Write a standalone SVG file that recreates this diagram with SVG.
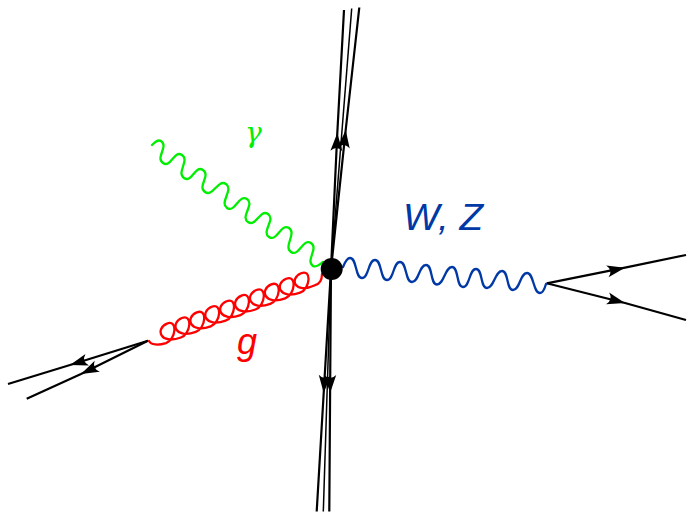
<svg xmlns="http://www.w3.org/2000/svg" width="687" height="512" viewBox="0 0 687 512">
<style>
.f{fill:none;stroke:#000;stroke-width:2.2;marker-mid:url(#a)}
.t{fill:none;stroke:#000;stroke-width:1.5}
.w{fill:none;stroke-width:2.3;stroke-linecap:round}
.l{font-family:"Liberation Sans",sans-serif;font-style:italic}
</style>
<defs>
<marker id="a" markerUnits="userSpaceOnUse" markerWidth="20" markerHeight="16" refX="18" refY="8" orient="auto" overflow="visible"><path d="M0,2 L18,8 L0,14 Q6,8 0,2 Z" fill="#000"/></marker>
</defs>
<rect width="687" height="512" fill="#fff"/>
<g id="connectors">
<path id="jet-up-1" class="f" d="M331,269 L337.3,133 L344,10"/>
<path id="jet-up-2" class="t" d="M331,269 L351.7,8.5"/>
<path id="jet-up-3" class="f" d="M331,269 L345.7,130 L359.3,7.5"/>
<path id="jet-down-1" class="f" d="M331,269 L323.7,393 L316.7,511.5"/>
<path id="jet-down-2" class="t" d="M331,269 L323.3,511.5"/>
<path id="jet-down-3" class="f" d="M331,269 L330.1,393 L329.3,511.5"/>
<path id="lep-1" class="f" d="M546.7,283.3 L625,267.7 L686,255"/>
<path id="lep-2" class="f" d="M546.7,283.3 L625,303 L686,320"/>
<path id="quark-1" class="f" d="M148,340.7 L70,365 L8,384"/>
<path id="quark-2" class="f" d="M148,340.7 L81,374 L26.7,398.7"/>
<path id="photon" class="w" stroke="#00ee00" d="M152,145 C155,142 158,139 161,141 C169,146.5 155,157.5 163,163 C171,168.5 174,149.5 182,155 C190,160.5 176,172.5 184,178 C192,183.5 195,164.5 203,170 C211,175.5 197,186.5 205,192 C213,197.5 218,178.5 226,184 C234,189.5 219,202.5 227,208 C235,213.5 239,193.5 247,199 C255,204.5 240,216.5 248,222 C256,227.5 260,208.5 268,214 C276,219.5 261,231.5 269,237 C277,242.5 281,222.5 289,228 C297,233.5 283,246.5 291,252 C299,257.5 303,237.5 311,243 C319,248.5 305,260.5 313,266 C316,268 320,264 323,262"/>
<path id="gluon" class="w" stroke="#f00" d="M149,341 C151,345 158,345.5 166,343.1 c10,-3.5 12,-24 1,-19.5 c-12,5 -7,21.5 13.9,13.9 c10,-3.5 12,-24 1,-19.5 c-12,5 -7,21.5 13.9,13.9 c10,-3.5 12,-24 1,-19.5 c-12,5 -7,21.5 13.9,13.9 c10,-3.5 12,-24 1,-19.5 c-12,5 -7,21.5 13.9,13.9 c10,-3.5 12,-24 1,-19.5 c-12,5 -7,21.5 13.9,13.9 c10,-3.5 12,-24 1,-19.5 c-12,5 -7,21.5 13.9,13.9 c10,-3.5 12,-24 1,-19.5 c-12,5 -7,21.5 13.9,13.9 c10,-3.5 12,-24 1,-19.5 c-12,5 -7,21.5 13.9,13.9 c10,-3.5 12,-24 1,-19.5 c-12,5 -7,21.5 13.9,13.9 c10,-3.5 12,-24 1,-19.5 c-12,5 -7,21.5 13.9,12 C319,284 322,280 322,274"/>
<path id="boson" class="w" stroke="#0039a6" d="M343,267 C345,262 347,258 350,258 C357,258 355,278 362,278 C369,278 368,260 375,260 C382,260 380,280 387,280 C394,280 393,262 400,262 C407,262 405,282 412,282 C419,282 419,265 426,265 C433,265 430,284.5 437,284.5 C444,284.5 445,267 452,267 C459,267 456,287 463,287 C470,287 469,269 476,269 C483,269 480,288 487,288 C494,288 495,271 502,271 C509,271 506,290 513,290 C520,290 520,273 527,273 C534,273 533,293 540,293 C542,293 544,291 546,284"/>
</g>
<g id="vertex"><circle cx="331.7" cy="269" r="11" fill="#000"/></g>
<g id="label-gamma"><text x="245" y="142" font-family="'DejaVu Serif',serif" font-style="italic" font-size="28" fill="#00ee00">γ</text></g>
<g id="label-wz"><text class="l" x="403" y="230" font-size="36" fill="#0039a6" textLength="80" lengthAdjust="spacingAndGlyphs">W, Z</text></g>
<g id="label-g"><text class="l" x="237" y="354" font-size="36" fill="#f00">g</text></g>
</svg>
